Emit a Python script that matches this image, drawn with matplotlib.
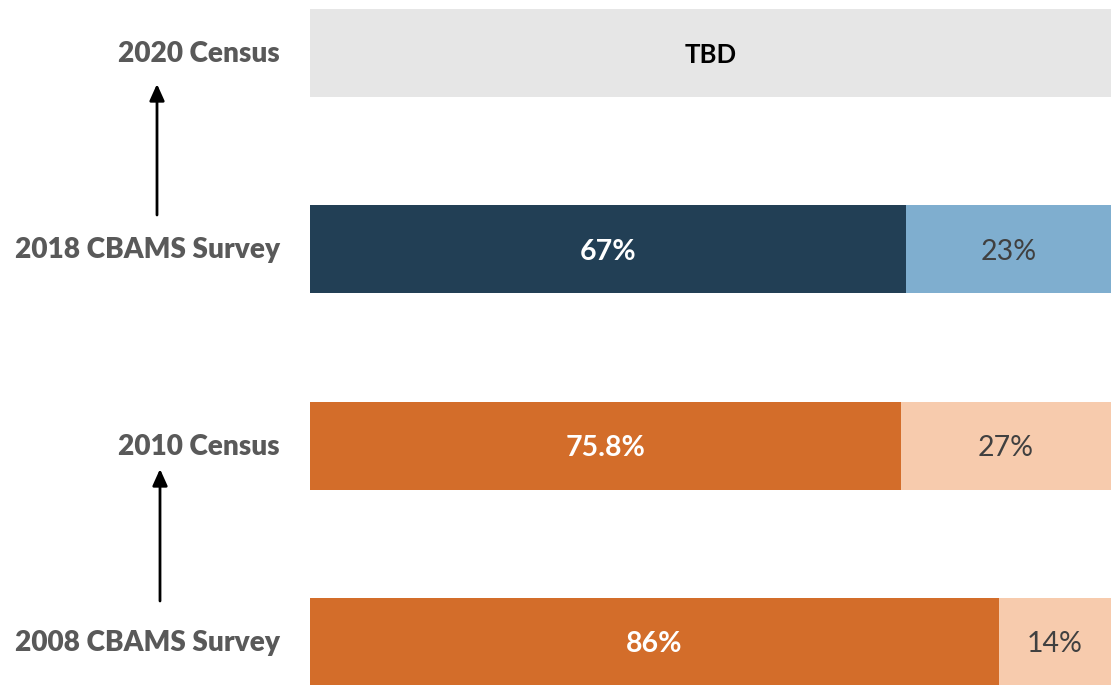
import matplotlib.pyplot as plt

plt.rcParams['font.family'] = ['Lato', 'DejaVu Sans']

# data, bottom to top
categories = ["2008 CBAMS Survey", "2010 Census", "2018 CBAMS Survey", "2020 Census"]
primary = [86, 75.8, 67, None]
secondary = [14, 27, 23, None]
primary_labels = ["86%", "75.8%", "67%"]
secondary_labels = ["14%", "27%", "23%"]
pending_label = "TBD"

dark_colors = ["#D36D2A", "#D36D2A", "#223F55"]
light_colors = ["#F7CBAD", "#F7CBAD", "#7FAECF"]
gray = "#E6E6E6"
label_gray = "#595959"

fig = plt.figure(figsize=(11.11, 6.85), dpi=100)
ax = fig.add_axes([310 / 1111, 0, 801 / 1111, 1])
bar_h = 0.448
dy = -0.012  # nudge values a touch lower

for i, cat in enumerate(categories):
    p, s = primary[i], secondary[i]
    if p is None:
        ax.barh(i, 1, height=bar_h, color=gray)
        ax.text(0.5, i + dy, pending_label, ha="center", va="center",
                fontsize=18.5, fontweight="bold", color="black")
        continue
    share = p / (p + s)
    ax.barh(i, share, height=bar_h, color=dark_colors[i])
    ax.barh(i, 1 - share, left=share, height=bar_h, color=light_colors[i])
    ax.text(share / 2, i + dy, primary_labels[i], ha="center", va="center",
            fontsize=20.5, fontweight="bold", color="white")
    ax.text(share + (1 - share) / 2, i + dy, secondary_labels[i], ha="center",
            va="center", fontsize=20.5, color="#404040")

ax.set_xlim(0, 1)
ax.set_ylim(-0.219, 3.27)
ax.axis("off")

# category labels on the left
for i, cat in enumerate(categories):
    y_px = 642 - 196.3 * i
    fig.text(280 / 1111, 1 - (y_px + 1) / 685, cat, ha="right", va="center",
             fontsize=20.2, fontweight="heavy", color=label_gray)

# arrows from survey up to census
for x_px, y0, y1 in [(157, 215, 84), (160, 601, 469)]:
    fig.add_artist(plt.Annotation(
        "", xy=(x_px / 1111, 1 - y1 / 685), xytext=(x_px / 1111, 1 - y0 / 685),
        xycoords="figure fraction", textcoords="figure fraction",
        arrowprops=dict(arrowstyle="-|>,head_length=1.0,head_width=0.45",
                        color="black", lw=2, shrinkA=0, shrinkB=0)))

fig.savefig("out.png", dpi=100)
